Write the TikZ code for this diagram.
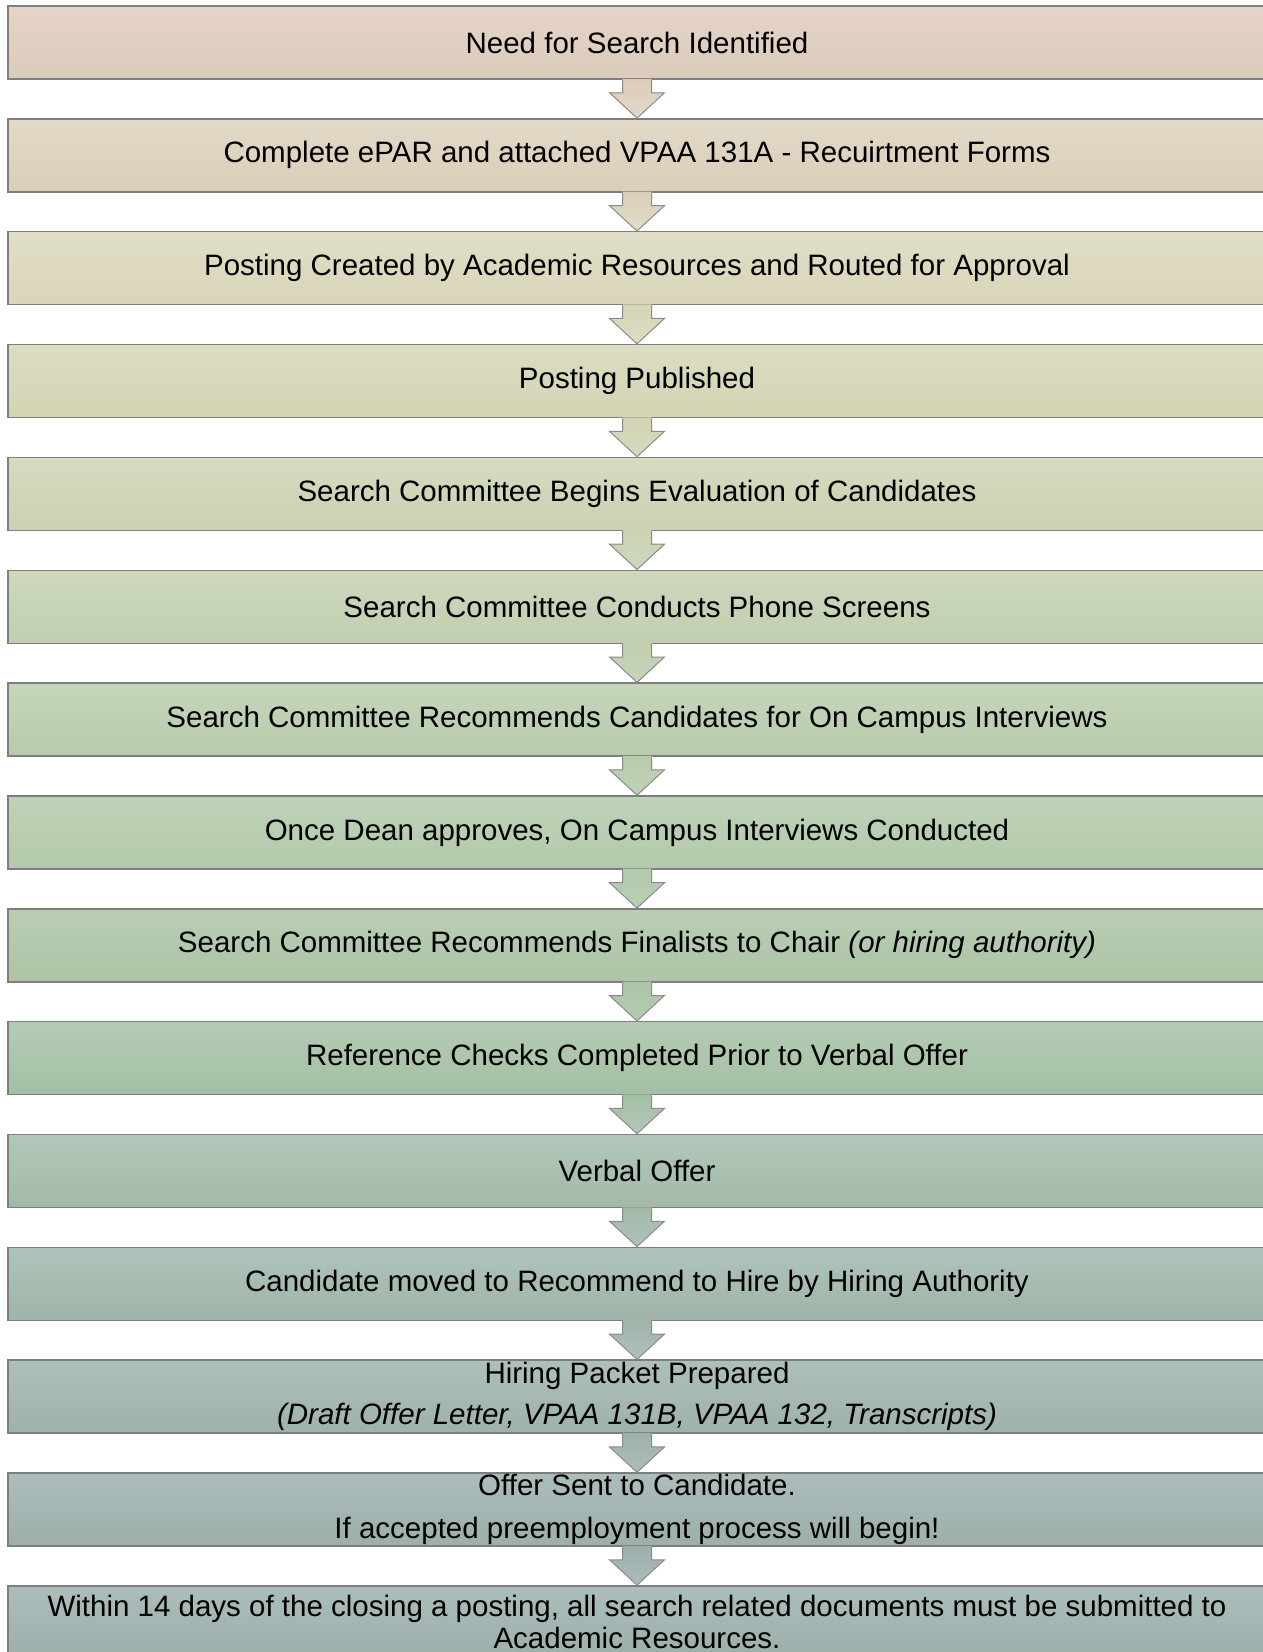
\documentclass[tikz,border=0pt]{standalone}
\usepackage{fontspec}
\setmainfont{Liberation Sans}
\usetikzlibrary{calc}
\definecolor{boxline}{HTML}{7E7E7E}
\definecolor{arrline}{HTML}{8A8A8A}
\definecolor{c1t}{HTML}{E4D5C8}\definecolor{c1b}{HTML}{DCCBBB}
\definecolor{c2t}{HTML}{E2D9C7}\definecolor{c2b}{HTML}{D9CEB9}
\definecolor{c3t}{HTML}{E1DEC7}\definecolor{c3b}{HTML}{D8D5B8}
\definecolor{c4t}{HTML}{DCDCC2}\definecolor{c4b}{HTML}{D3D4B3}
\definecolor{c5t}{HTML}{D4DBBF}\definecolor{c5b}{HTML}{CAD2B2}
\definecolor{c6t}{HTML}{CDD8BD}\definecolor{c6b}{HTML}{C1CEAF}
\definecolor{c7t}{HTML}{C5D5BA}\definecolor{c7b}{HTML}{B8CBAC}
\definecolor{c8t}{HTML}{BFD2B7}\definecolor{c8b}{HTML}{B3C9AC}
\definecolor{c9t}{HTML}{B9CEB3}\definecolor{c9b}{HTML}{ADC4A7}
\definecolor{c10t}{HTML}{B3CCB3}\definecolor{c10b}{HTML}{A5BFA5}
\definecolor{c11t}{HTML}{B1C7B9}\definecolor{c11b}{HTML}{A3B9A8}
\definecolor{c12t}{HTML}{AEC4BA}\definecolor{c12b}{HTML}{A0B4A8}
\definecolor{c13t}{HTML}{AEC0BC}\definecolor{c13b}{HTML}{9FB1AB}
\definecolor{c14t}{HTML}{ACBDBB}\definecolor{c14b}{HTML}{9CAFAB}
\newcommand\flowarrow[4]{%
  \shade[top color=#3,bottom color=#4]
    ($(#1.south)+(-14.5,-1)$) -- ($(#1.south)+(-14.5,13)$) -- ($(#1.south)+(-27.5,13)$)
    -- (#2.north) -- ($(#1.south)+(27.5,13)$) -- ($(#1.south)+(14.5,13)$)
    -- ($(#1.south)+(14.5,-1)$) -- cycle;
  \draw[arrowline]
    ($(#1.south)+(-14.5,0)$) -- ($(#1.south)+(-14.5,13)$) -- ($(#1.south)+(-27.5,13)$)
    -- (#2.north) -- ($(#1.south)+(27.5,13)$) -- ($(#1.south)+(14.5,13)$)
    -- ($(#1.south)+(14.5,0)$);
}
\begin{document}
\begin{tikzpicture}[x=1pt,y=-1pt,
  stepbox/.style={draw=boxline, line width=1.5pt, minimum width=1258pt,
    minimum height=73pt, inner sep=0pt, align=center, text=black,
    font=\fontsize{29.5}{35}\selectfont},
  arrowline/.style={draw=arrline, line width=1pt, line join=miter}]
\useasboundingbox (0,0) rectangle (1263,1652);
\clip (0,0) rectangle (1263,1652);
\node[stepbox, top color=c1t, bottom color=c1b] (b1) at (637,42.5) {Need for Search Identified};
\node[stepbox, top color=c2t, bottom color=c2b] (b2) at (637,155.35) {Complete ePAR and attached VPAA 131A - Recuirtment Forms};
\node[stepbox, top color=c3t, bottom color=c3b] (b3) at (637,268.2) {Posting Created by Academic Resources and Routed for Approval};
\node[stepbox, top color=c4t, bottom color=c4b] (b4) at (637,381.05) {Posting Published};
\node[stepbox, top color=c5t, bottom color=c5b] (b5) at (637,493.9) {Search Committee Begins Evaluation of Candidates};
\node[stepbox, top color=c6t, bottom color=c6b] (b6) at (637,606.75) {Search Committee Conducts Phone Screens};
\node[stepbox, top color=c7t, bottom color=c7b] (b7) at (637,719.6) {Search Committee Recommends Candidates for On Campus Interviews};
\node[stepbox, top color=c8t, bottom color=c8b] (b8) at (637,832.45) {Once Dean approves, On Campus Interviews Conducted};
\node[stepbox, top color=c9t, bottom color=c9b] (b9) at (637,945.3) {Search Committee Recommends Finalists to Chair \textit{(or hiring authority)}};
\node[stepbox, top color=c10t, bottom color=c10b] (b10) at (637,1058.15) {Reference Checks Completed Prior to Verbal Offer};
\node[stepbox, top color=c11t, bottom color=c11b] (b11) at (637,1171.0) {Verbal Offer};
\node[stepbox, top color=c12t, bottom color=c12b] (b12) at (637,1283.85) {Candidate moved to Recommend to Hire by Hiring Authority};
\node[stepbox, top color=c13t, bottom color=c13b, font=\fontsize{29.5}{41}\selectfont] (b13) at (637,1396.7) {Hiring Packet Prepared\\\textit{(Draft Offer Letter, VPAA 131B, VPAA 132, Transcripts)}};
\node[stepbox, top color=c14t, bottom color=c14b, font=\fontsize{29.5}{43}\selectfont] (b14) at (637,1509.55) {Offer Sent to Candidate.\\If accepted preemployment process will begin!};
\node[stepbox, top color=c14t, bottom color=c14b, font=\fontsize{29.5}{32}\selectfont] (b15) at (637,1622.4) {Within 14 days of the closing a posting, all search related documents must be submitted to\\Academic Resources.};
\flowarrow{b1}{b2}{c1b}{c2t}
\flowarrow{b2}{b3}{c2b}{c3t}
\flowarrow{b3}{b4}{c3b}{c4t}
\flowarrow{b4}{b5}{c4b}{c5t}
\flowarrow{b5}{b6}{c5b}{c6t}
\flowarrow{b6}{b7}{c6b}{c7t}
\flowarrow{b7}{b8}{c7b}{c8t}
\flowarrow{b8}{b9}{c8b}{c9t}
\flowarrow{b9}{b10}{c9b}{c10t}
\flowarrow{b10}{b11}{c10b}{c11t}
\flowarrow{b11}{b12}{c11b}{c12t}
\flowarrow{b12}{b13}{c12b}{c13t}
\flowarrow{b13}{b14}{c13b}{c14t}
\flowarrow{b14}{b15}{c14b}{c14t}
\end{tikzpicture}
\end{document}
